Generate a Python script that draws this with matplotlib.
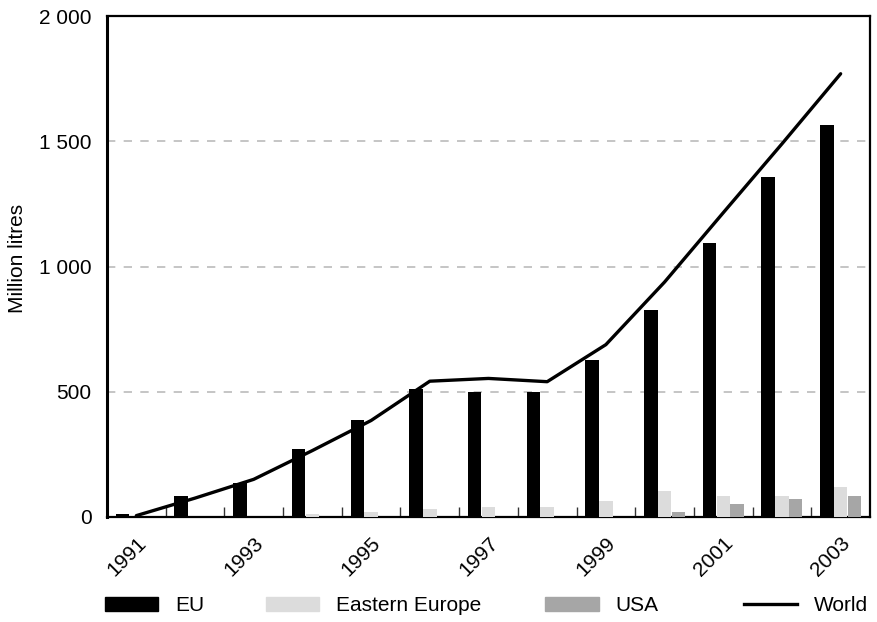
import numpy as np
import matplotlib
matplotlib.use('Agg')
import matplotlib.pyplot as plt
from matplotlib.patches import Patch
from matplotlib.lines import Line2D
from matplotlib.ticker import FuncFormatter

# data (million litres)
years = ['1991','1992','1993','1994','1995','1996','1997','1998','1999','2000','2001','2002','2003'];
eu = [10, 82, 135, 270, 385, 512, 500, 500, 625, 825, 1095, 1357, 1565];
eastern_europe = [0, 0, 0, 10, 20, 33, 40, 40, 65, 105, 85, 85, 118];
usa = [0, 0, 0, 0, 0, 0, 0, 0, 0, 20, 52, 72, 84];
world = [5, 75, 150, 265, 385, 542, 553, 540, 688, 938, 1215, 1490, 1770];

def thousands(v, pos):
    return '{:,.0f}'.format(v).replace(',', ' ');

def plot_chart(fname):
    plt.rcParams['font.family'] = ['Liberation Sans', 'DejaVu Sans'];
    fs = 15;
    fig = plt.figure(figsize=(8.77, 6.22), dpi=100);
    ax = fig.add_axes([0.122, 0.169, 0.870, 0.805]);
    x = np.arange(len(years));
    w = 0.23;
    ax.bar(x - 0.235, eu, w, color='black', zorder=3);
    ax.bar(x, eastern_europe, w, color='#dcdcdc', zorder=3);
    ax.bar(x + 0.235, usa, w, color='#a6a6a6', zorder=3);
    ax.plot(x, world, color='black', lw=2.4, solid_capstyle='round', solid_joinstyle='round', zorder=4);

    ax.set_xlim(-0.5, len(years) - 0.5);
    ax.set_ylim(0, 2000);
    ax.set_yticks([0, 500, 1000, 1500, 2000]);
    ax.yaxis.set_major_formatter(FuncFormatter(thousands));
    ax.tick_params(axis='y', length=0, pad=11, labelsize=fs);
    ax.grid(axis='y', color='#bbbbbb', ls=(0, (5, 5)), lw=1.2, zorder=0);

    # year labels every other category, tick marks between categories
    ax.set_xticks(x[::2]);
    ax.set_xticklabels(years[::2], rotation=45, ha='right', va='top', rotation_mode='anchor');
    ax.tick_params(axis='x', which='major', length=0, pad=12, labelsize=fs);
    ax.set_xticks(np.arange(0.5, len(years) - 1, 1.0), minor=True);
    ax.tick_params(axis='x', which='minor', direction='in', length=7, width=1, color='#333333');

    for s in ax.spines.values():
        s.set_linewidth(1.6);
    ax.spines['left'].set_linewidth(2.2);
    ax.set_ylabel('Million litres', fontsize=fs);
    ax.yaxis.set_label_coords(-0.105, 0.517);

    # legend entries placed one by one along the bottom
    items = [(Patch(color='black'), 'EU', 0.120),
             (Patch(color='#dcdcdc'), 'Eastern Europe', 0.303),
             (Patch(color='#a6a6a6'), 'USA', 0.622),
             (Line2D([], [], color='black', lw=2.4), 'World', 0.848)];
    for h, lab, xpos in items:
        leg = fig.legend([h], [lab], loc='center left', bbox_to_anchor=(xpos, 0.026),
                         frameon=False, fontsize=fs, handlelength=2.55, handleheight=0.65,
                         handletextpad=0.8, borderpad=0, borderaxespad=0);
    fig.savefig(fname, dpi=100);
    plt.close(fig);
    return 0;

def main():
    plot_chart('out.png');
    return 0;

if __name__ == "__main__":
    main()
